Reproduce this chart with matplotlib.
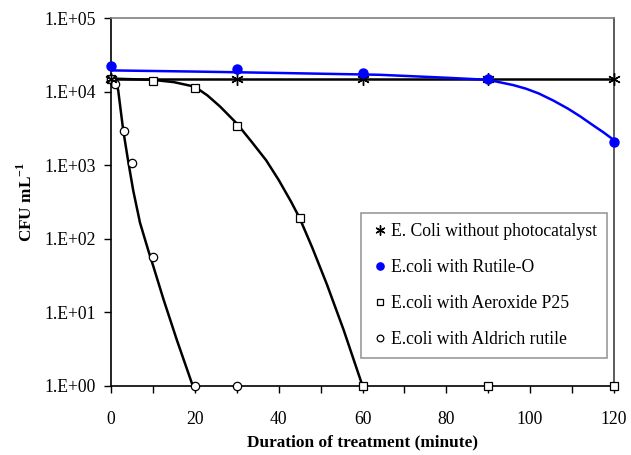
import matplotlib
matplotlib.use('Agg')
import matplotlib.pyplot as plt
from matplotlib.ticker import FixedLocator, MultipleLocator, NullLocator

plt.rcParams['font.family'] = ['Liberation Serif', 'DejaVu Serif']
plt.rcParams['mathtext.fontset'] = 'custom'
plt.rcParams['mathtext.rm'] = 'Liberation Serif'
plt.rcParams['mathtext.bf'] = 'Liberation Serif:bold'

# MEASURED POINTS (CFU/mL)
t_none = [0, 30, 60, 90, 120]
v_none = [1.5e4, 1.5e4, 1.5e4, 1.5e4, 1.5e4]

t_rutile = [0, 30, 60, 90, 120]
v_rutile = [2.23e4, 2.03e4, 1.79e4, 1.48e4, 2.1e3]

t_p25 = [0, 10, 20, 30, 45, 60, 90, 120]
v_p25 = [1.5e4, 1.42e4, 1.12e4, 3.4e3, 1.9e2, 1, 1, 1]

t_aldrich = [0, 1, 3, 5, 10, 20, 30]
v_aldrich = [1.5e4, 1.26e4, 2.9e3, 1.07e3, 57, 1, 1]

# FITTED CURVES
t_rutile_fit = [0, 20, 40, 64, 80, 85, 90, 96, 99, 102, 105.5, 109, 112, 115, 117.5, 120]
v_rutile_fit = [1.95e4, 1.88e4, 1.80e4, 1.70e4, 1.55e4, 1.50e4, 1.45e4, 1.23e4, 1.10e4,
                9.5e3, 7.6e3, 5.9e3, 4.6e3, 3.5e3, 2.8e3, 2.2e3]

t_p25_fit = [0, 10, 15, 20, 23, 26, 30, 33.5, 37, 40, 43, 45, 48, 51.5, 55.5, 60]
v_p25_fit = [1.51e4, 1.45e4, 1.35e4, 1.17e4, 8.9e3, 6.3e3, 3.7e3, 2.1e3, 1.17e3, 631,
             316, 191, 76, 24, 5.75, 1]

t_aldrich_fit = [0, 0.5, 1.2, 1.7, 2.3, 2.9, 3.9, 4.7, 5.3, 6.9, 8.9, 10.1, 12.5, 15.7, 19.5]
v_aldrich_fit = [1.51e4, 1.45e4, 1.32e4, 1.05e4, 5.6e3, 3.0e3, 1.32e3, 710, 450, 166, 69,
                 42, 15.1, 4.2, 1]

labels = ['E. Coli without photocatalyst', 'E.coli with Rutile-O',
          'E.coli with Aeroxide P25', 'E.coli with Aldrich rutile']

yticks = [1, 10, 100, 1000, 1e4, 1e5]
ytick_labels = ['1.E+00', '1.E+01', '1.E+02', '1.E+03', '1.E+04', '1.E+05']
xticks = [0, 20, 40, 60, 80, 100, 120]

fs = 12.7

fig = plt.figure(figsize=(6.31, 4.55), dpi=100)
ax = fig.add_axes([0.176, 0.152, 0.797, 0.808])

# fitted lines
ax.plot(t_none, v_none, color='black', lw=1.8, zorder=2)
ax.plot(t_rutile_fit, v_rutile_fit, color='#0000ff', lw=1.8, zorder=2)
ax.plot(t_p25_fit, v_p25_fit, color='black', lw=1.8, zorder=2)
ax.plot(t_aldrich_fit, v_aldrich_fit, color='black', lw=1.8, zorder=2)

# markers
ax.plot(t_none, v_none, ls='none', marker=(6, 2, 0), ms=9, mew=1, color='black',
        label=labels[0], zorder=4, clip_on=False)
ax.plot(t_rutile, v_rutile, ls='none', marker='o', ms=6.5, color='#0000ff',
        mec='#0000ff', label=labels[1], zorder=4, clip_on=False)
ax.plot(t_p25, v_p25, ls='none', marker='s', ms=6, mfc='white', mec='black', mew=0.9,
        label=labels[2], zorder=3, clip_on=False)
ax.plot(t_aldrich, v_aldrich, ls='none', marker='o', ms=6, mfc='white', mec='black', mew=0.9,
        label=labels[3], zorder=3, clip_on=False)

ax.set_yscale('log')
ax.set_ylim(1, 1e5)
ax.set_xlim(0, 120)
ax.yaxis.set_major_locator(FixedLocator(yticks))
ax.yaxis.set_minor_locator(NullLocator())
ax.set_yticks(yticks)
ax.set_yticklabels(ytick_labels)
ax.set_xticks(xticks)
ax.xaxis.set_minor_locator(MultipleLocator(10))
ax.tick_params(axis='both', which='both', direction='out', length=5, width=1,
               labelsize=fs, color='black')
ax.tick_params(axis='x', pad=13)
ax.tick_params(axis='y', pad=6)

for s in ['left', 'bottom']:
    ax.spines[s].set_linewidth(1.2)
    ax.spines[s].set_color('black')
ax.spines['top'].set_color('#808080')
ax.spines['top'].set_linewidth(1.2)
ax.spines['right'].set_color('#404040')
ax.spines['right'].set_linewidth(1.2)

ax.set_xlabel('Duration of treatment (minute)', fontsize=12.4, fontweight='bold', labelpad=5)
ax.set_ylabel(r'CFU mL$^{\mathbf{-1}}$', fontsize=12.4, fontweight='bold', labelpad=6)

leg = ax.legend(loc='lower right', bbox_to_anchor=(0.986, 0.076), borderaxespad=0,
                fontsize=fs, frameon=True, fancybox=False, handlelength=1.0,
                handletextpad=0.15, labelspacing=1.08, borderpad=0.55, markerscale=0.8)
leg.get_frame().set_edgecolor('#808080')
leg.get_frame().set_linewidth(1.2)

fig.savefig('out.png', dpi=100)
